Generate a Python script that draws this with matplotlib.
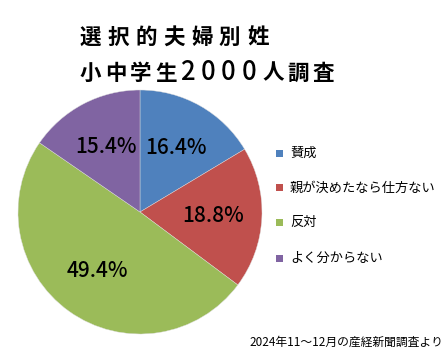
import matplotlib
matplotlib.use('Agg')
import matplotlib.pyplot as plt
from matplotlib.patches import Rectangle

plt.rcParams['font.family'] = ['Noto Sans CJK JP', 'DejaVu Sans']

# データ
categories = ['賛成', '親が決めたなら仕方ない', '反対', 'よく分からない']
values = [16.4, 18.8, 49.4, 15.4]
colors = ['#4F81BD', '#C0504D', '#9BBB59', '#8064A2']
title_lines = ['選択的夫婦別姓', '小中学生2000人調査']
source = '2024年11～12月の産経新聞調査より'

W, H = 447, 355
fig = plt.figure(figsize=(W / 100, H / 100), dpi=100)

# 円グラフ（中心 x=140, y=212, 半径 122 px）
ax = fig.add_axes([18 / W, (H - 334) / H, 244 / W, 244 / H])
wedges, texts, autotexts = ax.pie(
    values, colors=colors, startangle=90, counterclock=False,
    autopct='%.1f%%', pctdistance=0.6,
    wedgeprops={'linewidth': 0.3, 'edgecolor': '#dddddd'},
    textprops={'fontsize': 15, 'color': 'black', 'fontweight': 'medium'})
ax.set_aspect('equal')
ax.set_xlim(-1, 1)
ax.set_ylim(-1, 1)

# タイトル（文字間隔を広めに）
def draw_spaced(text, x0, y, step, size):
    x = x0
    for ch in text:
        if ch.isdigit():
            fig.text(x / W, 1 - y / H, ch, fontsize=size + 3, fontweight='medium',
                     ha='left', va='center')
            x += step * 0.82
        else:
            fig.text(x / W, 1 - y / H, ch, fontsize=size, fontweight='bold',
                     ha='left', va='center')
            x += step

draw_spaced(title_lines[0], 80, 37, 27.8, 15.5)
draw_spaced(title_lines[1], 80, 73, 25, 15.5)

# 凡例
legend_y = [153, 188, 222, 258]
for cat, col, y in zip(categories, colors, legend_y):
    fig.patches.append(Rectangle((276 / W, 1 - (y + 3.5) / H), 7 / W, 7 / H,
                                 transform=fig.transFigure, facecolor=col,
                                 edgecolor='none'))
    fig.text(290 / W, 1 - y / H, cat, fontsize=9.5, ha='left', va='center')

# 出典
fig.text(443 / W, 1 - 342 / H, source, fontsize=8.5, ha='right', va='center')

fig.savefig('out.png', dpi=100)
